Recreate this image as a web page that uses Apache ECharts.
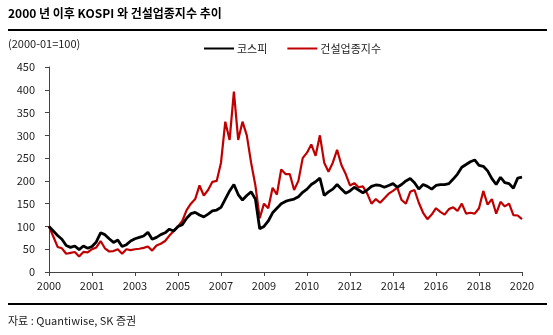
<!DOCTYPE html>
<html><head><meta charset="utf-8">
<script src="https://cdn.jsdelivr.net/npm/echarts@6/dist/echarts.min.js"></script>
<style>html,body{margin:0;padding:0;background:#fff}#c{width:553px;height:335px}</style>
</head><body><div id="c"></div>
<script>
const tickLabels = ['2000','2001','2003','2005','2007','2009','2010','2012','2014','2016','2018','2020'];
const pointsPerTick = 10;
const kospi = [100,90,80,72,58,54,57,49,57,52,
  56,66,86,82,73,65,70,56,60,68,
  73,76,79,87,72,76,82,86,94,90,
  100,104,118,128,131,125,121,127,134,136,
  142,160,178,192,170,158,168,176,160,95,
  100,112,130,140,150,155,158,160,165,175,
  182,192,198,206,168,176,182,192,182,173,
  178,186,180,174,180,188,191,190,186,190,
  194,186,192,200,205,196,182,192,188,182,
  190,192,192,194,204,215,230,236,242,246,
  234,232,222,205,192,208,196,194,184,206,
  208];
const construction = [100,78,55,52,40,42,44,34,44,43,
  50,54,68,52,45,46,50,40,50,48,
  50,51,53,56,47,58,62,68,80,90,
  100,112,136,150,160,190,168,180,198,200,
  240,330,290,396,290,330,300,240,190,118,
  150,140,185,170,225,215,215,180,200,250,
  262,280,255,300,240,220,240,268,235,215,
  190,195,186,188,172,150,160,152,162,172,
  178,185,158,150,176,180,152,130,116,126,
  140,132,126,138,142,134,150,128,130,128,
  140,178,148,160,128,154,144,150,125,124,
  116];
const seriesNames = ['코스피','건설업종지수'];

const categories = kospi.map((_, i) => (i % pointsPerTick === 0) ? tickLabels[i / pointsPerTick] : String(i));
const FONT = '"Noto Sans CJK KR", "Noto Sans", sans-serif';
const chart = echarts.init(document.getElementById('c'), null, {renderer: 'canvas'});
chart.setOption({
  animation: false,
  backgroundColor: '#fff',
  textStyle: {fontFamily: FONT},
  grid: {left: 49, right: 31, top: 67, bottom: 63},
  legend: {
    data: seriesNames, left: 199, top: 38, icon: 'rect', itemWidth: 30, itemHeight: 2, itemGap: 20,
    textStyle: {fontFamily: FONT, fontSize: 11, color: '#222', padding: [0,0,0,-2]}
  },
  xAxis: {
    type: 'category', data: categories, boundaryGap: false,
    axisLine: {lineStyle: {color: '#444', width: 1}},
    axisTick: {interval: (i) => i % pointsPerTick === 0, length: 4, lineStyle: {color: '#444'}},
    axisLabel: {interval: (i) => i % pointsPerTick === 0, color: '#222', fontSize: 11, margin: 8, fontFamily: FONT}
  },
  yAxis: {
    type: 'value', min: 0, max: 450, interval: 50,
    splitLine: {show: false},
    axisLine: {show: true, lineStyle: {color: '#444', width: 1}},
    axisTick: {show: true, length: 4, lineStyle: {color: '#444'}},
    axisLabel: {color: '#222', fontSize: 11, margin: 14, fontFamily: FONT}
  },
  series: [
    {name: seriesNames[0], type: 'line', data: kospi, showSymbol: false, symbol: 'none', z: 3,
     lineStyle: {color: '#000', width: 2.8}, itemStyle: {color: '#000'}},
    {name: seriesNames[1], type: 'line', data: construction, showSymbol: false, symbol: 'none', z: 2,
     lineStyle: {color: '#c00000', width: 2.2}, itemStyle: {color: '#c00000'}}
  ],
  graphic: [
    {type: 'text', left: 8, top: 7, style: {text: '2000 년 이후 KOSPI 와 건설업종지수 추이', font: 'bold 12px ' + FONT, fill: '#000'}},
    {type: 'rect', shape: {x: 8, y: 29, width: 539, height: 2}, style: {fill: '#000'}},
    {type: 'text', left: 8, top: 38, style: {text: '(2000-01=100)', font: '11px ' + FONT, fill: '#222'}},
    {type: 'rect', shape: {x: 8, y: 303, width: 539, height: 2}, style: {fill: '#000'}},
    {type: 'text', left: 8, top: 315, style: {text: '자료 : Quantiwise, SK 증권', font: '11px ' + FONT, fill: '#222'}}
  ]
});
</script></body></html>
